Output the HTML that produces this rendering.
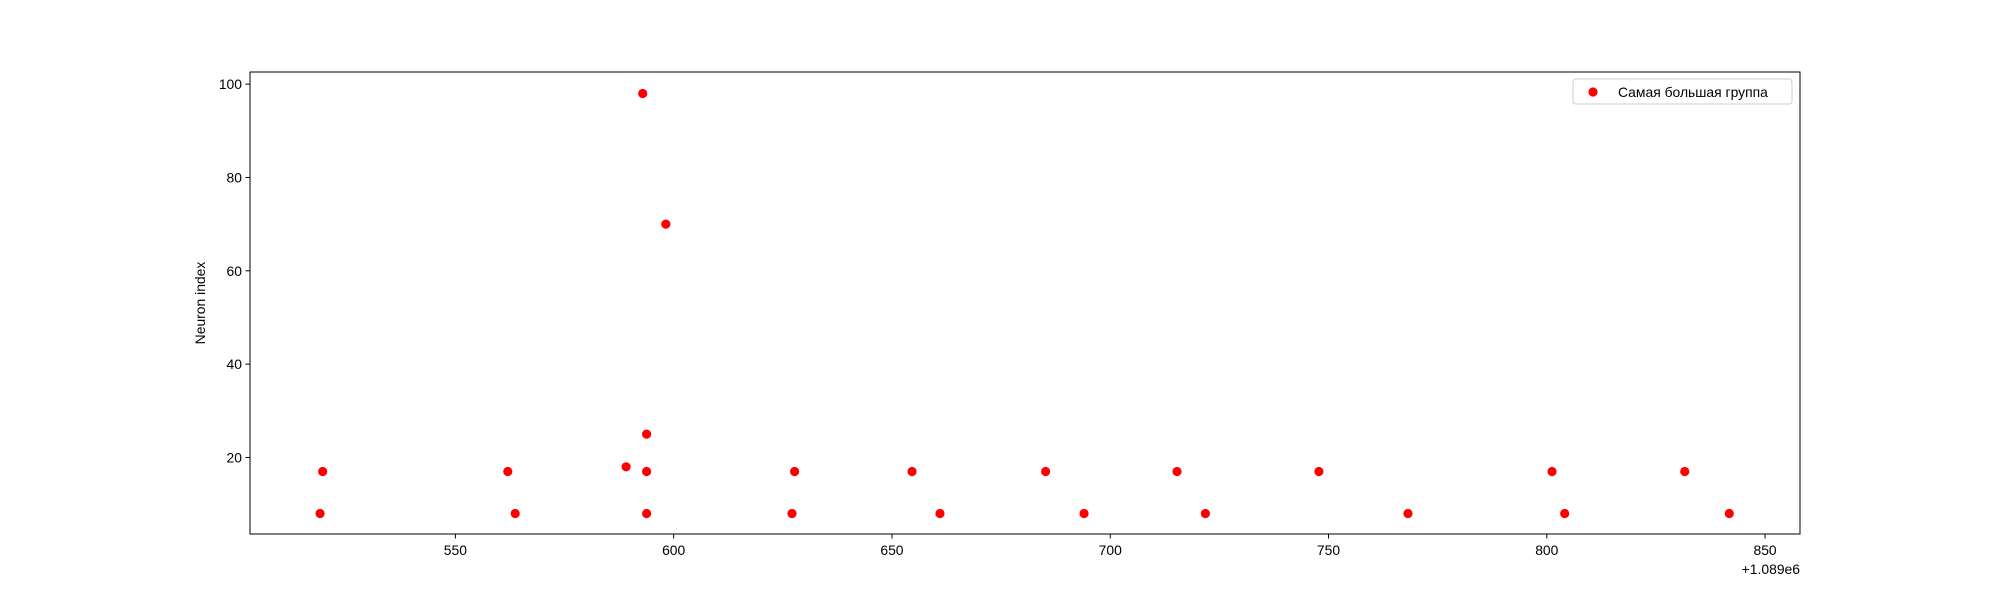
<!DOCTYPE html>
<html><head><meta charset="utf-8"><style>
body{margin:0;background:#fff;}
svg text{font-family:"Liberation Sans","DejaVu Sans",sans-serif;font-size:13.9px;fill:#000;}
</style></head><body>
<svg id="chart" width="2000" height="600" xmlns="http://www.w3.org/2000/svg">
<rect width="2000" height="600" fill="#fff"/>
<g id="marks"></g>
<g id="axes"></g>
</svg>
<script>
const xValues=[519,519.6,562,563.7,589.1,592.9,593.8,593.8,593.8,598.2,627.1,627.7,654.6,661,685.2,694,715.3,721.8,747.8,768.2,801.2,804.1,831.6,841.8];
const yValues=[8,17,17,8,18,98,25,17,8,70,8,17,17,8,17,8,17,8,17,8,17,8,17,8];
const xTicks=[550,600,650,700,750,800,850];
const yTicks=[20,40,60,80,100];
const xOffsetLabel="+1.089e6";
const seriesLabel="Самая большая группа";

const L=250,R=1800,T=72,B=534;
const xMin=502.95,xMax=858,yMin=3.6,yMax=102.6;
function sx(v){return L+(v-xMin)/(xMax-xMin)*(R-L);}
function sy(v){return B-(v-yMin)/(yMax-yMin)*(B-T);}
const NS="http://www.w3.org/2000/svg";
function mk(tag,attrs,parent){const e=document.createElementNS(NS,tag);for(const k in attrs)e.setAttribute(k,attrs[k]);parent.appendChild(e);return e;}
const marks=document.getElementById('marks'),axes=document.getElementById('axes');
xValues.forEach((v,i)=>{
 const c=mk('circle',{cx:sx(v),cy:sy(yValues[i]),r:4.6,fill:'#ff0000'},marks);
 
 
});
const frame=mk('rect',{x:L,y:T,width:R-L,height:B-T,fill:'none',stroke:'#000','stroke-width':1},axes);


xTicks.forEach(t=>{
 const x=sx(t);
 mk('line',{x1:x,x2:x,y1:B,y2:B+4.5,stroke:'#000'},axes);
 const tx=mk('text',{x:x,y:B+21,'text-anchor':'middle'},axes);tx.textContent=t;
 
 
});
yTicks.forEach(t=>{
 const y=sy(t);
 mk('line',{x1:L-4.5,x2:L,y1:y,y2:y,stroke:'#000'},axes);
 const tx=mk('text',{x:L-8,y:y+5,'text-anchor':'end'},axes);tx.textContent=t;
 
 
});
const off=mk('text',{x:1800,y:574,'text-anchor':'end'},axes);off.textContent=xOffsetLabel;


const yt=mk('text',{x:205,y:303,'text-anchor':'middle',transform:'rotate(-90 205 303)'},axes);yt.textContent='Neuron index';


const lg=mk('g',{},axes);


mk('rect',{x:1573,y:79,width:219,height:25,rx:3,fill:'#fff',stroke:'#ccc'},lg);
mk('circle',{cx:1593,cy:92,r:4.6,fill:'#ff0000'},lg);
const lt=mk('text',{x:1618,y:97},lg);lt.textContent=seriesLabel;


</script>
</body></html>
